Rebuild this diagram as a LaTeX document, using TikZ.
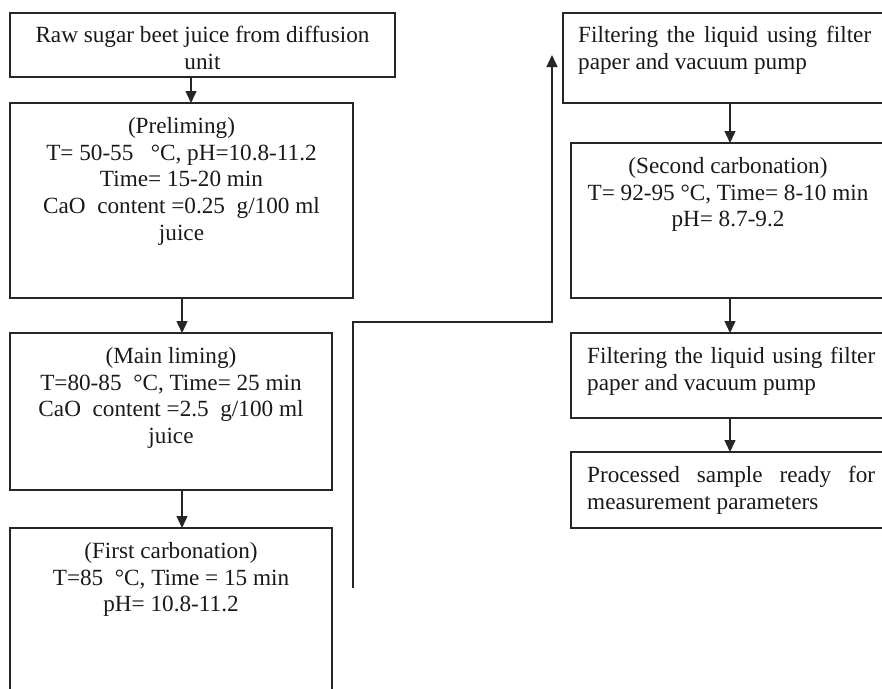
\documentclass[tikz,border=0pt]{standalone}
\usepackage{fontspec}
\setmainfont{Liberation Serif}
\usetikzlibrary{arrows.meta}
\begin{document}
\begin{tikzpicture}[x=1pt,y=-1pt,
  box/.style={draw=black!85, line width=1.4pt, rectangle, inner sep=0pt, outer sep=0pt, anchor=north west},
  txt/.style={inner sep=0pt, font=\fontsize{23.2}{26.8}\selectfont, text=black!90},
  ctxt/.style={txt, align=center, anchor=north},
  jtxt/.style={txt, align=justify, anchor=north west},
  arr/.style={draw=black!85, line width=1.4pt, line join=miter, -{Triangle[length=12pt,width=11pt]}}]
\useasboundingbox (0,0) rectangle (882,688);
\clip (0,0) rectangle (882,688);

% left column boxes
\node[box, minimum width=385pt, minimum height=64pt]  (b1) at (10,13) {};
\node[box, minimum width=343pt, minimum height=195pt] (b2) at (10,103) {};
\node[box, minimum width=322pt, minimum height=157pt] (b3) at (10,333) {};
\node[box, minimum width=322pt, minimum height=172pt] (b4) at (10,528) {};

% right column boxes
\node[box, minimum width=323pt, minimum height=90pt]  (r1) at (563,13) {};
\node[box, minimum width=315pt, minimum height=155pt] (r2) at (571,143) {};
\node[box, minimum width=315pt, minimum height=85pt]  (r3) at (571,333) {};
\node[box, minimum width=315pt, minimum height=76pt]  (r4) at (571,452) {};

% texts
\node[ctxt, yshift=-13pt] (t1) at (b1.north) {Raw sugar beet juice from diffusion\\unit};
\node[ctxt, yshift=-14pt] (t2) at (b2.north) {(Preliming)\\T= 50-55\ \ \ °C, pH=10.8-11.2\\Time= 15-20 min\\CaO\ \ content =0.25\ \ g/100 ml\\juice};
\node[ctxt, yshift=-14pt] (t3) at (b3.north) {(Main liming)\\T=80-85\ \ °C, Time= 25 min\\CaO\ \ content =2.5\ \ g/100 ml\\juice};
\node[ctxt, yshift=-14pt] (t4) at (b4.north) {(First carbonation)\\T=85\ \ °C, Time = 15 min\\pH= 10.8-11.2};

\node[jtxt, text width=293pt] (u1) at (578,26) {\tolerance=10000 Filtering the liquid using filter\linebreak paper and vacuum pump};
\node[ctxt] (u2) at (728,157) {(Second carbonation)\\T= 92-95 °C, Time= 8-10 min\\pH= 8.7-9.2};
\node[jtxt, text width=288pt] (u3) at (587,347) {\tolerance=10000 Filtering the liquid using filter\linebreak paper and vacuum pump};
\node[jtxt, text width=288pt] (u4) at (587,466) {\tolerance=10000 \hyphenpenalty=10000 Processed sample ready for\linebreak measurement parameters};

% guide coordinates for connector positions
\coordinate (gx1) at (191,0);
\coordinate (gx2) at (182,0);
\coordinate (gx3) at (730,0);

% left arrows
\draw[arr] (b1.south -| gx1) -- (b2.north -| gx1);
\draw[arr] (b2.south -| gx2) -- (b3.north -| gx2);
\draw[arr] (b3.south -| gx2) -- (b4.north -| gx2);

% cross-over connector
\coordinate (c0) at (353,588);
\coordinate (c1) at (353,322);
\coordinate (c2) at (552,322);
\coordinate (c3) at (552,55);
\draw[arr] (c0) -- (c1) -- (c2) -- (c3);

% right arrows
\draw[arr] (r1.south -| gx3) -- (r2.north -| gx3);
\draw[arr] (r2.south -| gx3) -- (r3.north -| gx3);
\draw[arr] (r3.south -| gx3) -- (r4.north -| gx3);
\end{tikzpicture}
\end{document}
